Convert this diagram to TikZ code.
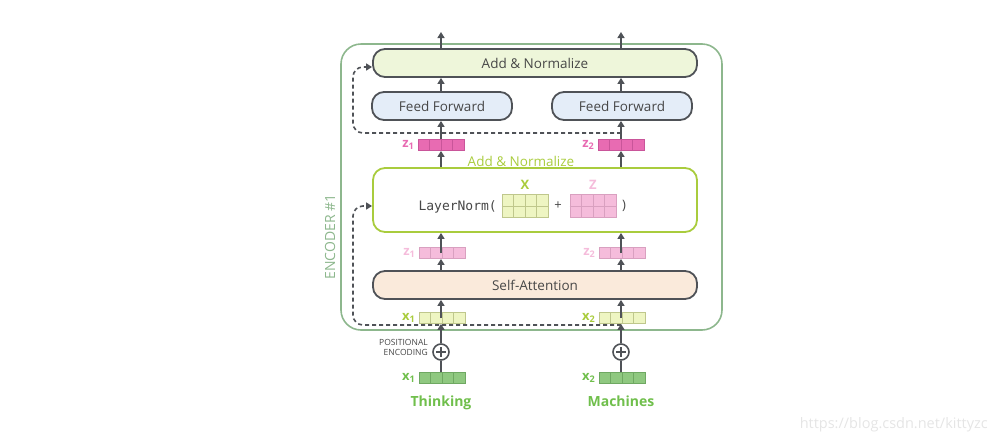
\documentclass[tikz,border=0pt]{standalone}
\usepackage{fontspec}
\setmainfont{Open Sans}
\setmonofont{DejaVu Sans Mono}
\usetikzlibrary{arrows.meta, positioning, calc}
\definecolor{linegray}{HTML}{4F5257}
\definecolor{textgray}{HTML}{474747}
\definecolor{encgreen}{HTML}{8DB78D}
\definecolor{addfill}{HTML}{EEF6DA}
\definecolor{fffill}{HTML}{E4EDF8}
\definecolor{safill}{HTML}{FAEADB}
\definecolor{lngreen}{HTML}{A9CC3D}
\definecolor{hotpink}{HTML}{E86BB2}
\definecolor{hotpinkd}{HTML}{C9559A}
\definecolor{lightpink}{HTML}{F5BCDB}
\definecolor{lightpinkd}{HTML}{D9A0C0}
\definecolor{lightyel}{HTML}{EEF5C2}
\definecolor{lightyeld}{HTML}{BFC78C}
\definecolor{embgreen}{HTML}{8FC880}
\definecolor{embgreend}{HTML}{6FA862}
\definecolor{wordgreen}{HTML}{70BF4C}

\begin{document}
\begin{tikzpicture}[x=1pt,y=-1pt,
		>={Triangle[width=7pt,length=6pt]},
		box/.style={draw=linegray, line width=1.8pt, rounded corners=12pt, minimum height=28pt, inner sep=0pt, text=textgray, font=\fontsize{13.5}{15}\selectfont},
		cells/.style={path picture={\foreach \k in {1,2,3} \draw[#1, line width=0.8pt] ($(path picture bounding box.south west)!\k/4!(path picture bounding box.south east)$) -- ($(path picture bounding box.north west)!\k/4!(path picture bounding box.north east)$);}},
		vec/.style 2 args={draw=#2, fill=#1, line width=0.8pt, minimum width=46pt, minimum height=11pt, inner sep=0pt, cells=#2},
		mat/.style 2 args={vec={#1}{#2}, minimum height=23pt},
		veclabel/.style={anchor=east, inner sep=0pt, font=\bfseries\fontsize{13}{14}\selectfont},
		word/.style={anchor=base, text=wordgreen, font=\bfseries\fontsize{14}{16}\selectfont},
		flow/.style={->, draw=linegray, line width=1.6pt},
		resid/.style={->, draw=linegray, line width=1.6pt, dash pattern=on 4pt off 3pt, rounded corners=10pt},
		posenc/.style={circle, draw=linegray, line width=1.6pt, minimum size=16pt, inner sep=0pt, path picture={\draw[linegray, line width=1.6pt] ($(path picture bounding box.center)+(-5,0)$) -- ++(10,0) ($(path picture bounding box.center)+(0,-5)$) -- ++(0,10);}}]
		\path[use as bounding box] (0,0) rectangle (997,445);

		\draw[encgreen, line width=1.6pt, rounded corners=20pt] (341,44) rectangle (722,330);
		\node[rotate=90, text=encgreen, font=\fontsize{14}{15}\selectfont] (enclabel) at (330,237) {ENCODER \#1};

		\node[box, fill=addfill, minimum width=324pt] (add2) at (535,63) {Add \& Normalize};
		\node[box, fill=fffill, minimum width=140pt] (ff1) at (442,106) {Feed Forward};
		\node[box, fill=fffill, minimum width=140pt] (ff2) at (622,106) {Feed Forward};
		\node[box, draw=lngreen, fill=white, minimum width=324pt, minimum height=64pt] (ln) at (535,200) {};
		\node[box, fill=safill, minimum width=324pt] (sa) at (535,285) {Self-Attention};

		\node[vec={hotpink}{hotpinkd}] (zz1) at (441,145) {};
		\node[vec={hotpink}{hotpinkd}] (zz2) at (621,145) {};
		\node[veclabel, text=hotpink, left=3pt of zz1] (zz1l) {z\textsubscript{1}};
		\node[veclabel, text=hotpink, left=3pt of zz2] (zz2l) {z\textsubscript{2}};
		\node[text=lngreen, font=\fontsize{13.5}{15}\selectfont] (addlabel) at (521,161) {Add \& Normalize};

		\node[anchor=east, font=\ttfamily\fontsize{13}{14}\selectfont, text=textgray, inner sep=0pt] (lnname) at (497,207) {LayerNorm(};
		\node[mat={lightyel}{lightyeld}] (xmat) at (525,206) {};
		\draw[lightyeld, line width=0.8pt] (xmat.west) -- (xmat.east);
		\node[text=textgray, font=\fontsize{13}{14}\selectfont] (plus) at (558,206) {+};
		\node[mat={lightpink}{lightpinkd}] (zmat) at (593,206) {};
		\draw[lightpinkd, line width=0.8pt] (zmat.west) -- (zmat.east);
		\node[text=textgray, font=\fontsize{13}{14}\selectfont] (close) at (624,206) {)};
		\node[above=1pt of xmat, text=lngreen, font=\bfseries\fontsize{13}{14}\selectfont] (xname) {X};
		\node[above=1pt of zmat, text=lightpink, font=\bfseries\fontsize{13}{14}\selectfont] (zname) {Z};

		\node[vec={lightpink}{lightpinkd}] (z1) at (442,253) {};
		\node[vec={lightpink}{lightpinkd}] (z2) at (622,253) {};
		\node[veclabel, text=lightpink, left=3pt of z1] (z1l) {z\textsubscript{1}};
		\node[veclabel, text=lightpink, left=3pt of z2] (z2l) {z\textsubscript{2}};

		\node[vec={lightyel}{lightyeld}] (x1) at (442,318) {};
		\node[vec={lightyel}{lightyeld}] (x2) at (622,318) {};
		\node[veclabel, text=lngreen, left=3pt of x1] (x1l) {x\textsubscript{1}};
		\node[veclabel, text=lngreen, left=3pt of x2] (x2l) {x\textsubscript{2}};

		\node[posenc] (pe1) at (441,352) {};
		\node[posenc] (pe2) at (621,352) {};
		\node[anchor=east, align=right, text=textgray, font=\fontsize{8.5}{10}\selectfont, inner sep=0pt] (pelabel) at (428,347) {POSITIONAL\\ENCODING};

		\node[vec={embgreen}{embgreend}] (e1) at (442,378) {};
		\node[vec={embgreen}{embgreend}] (e2) at (622,378) {};
		\node[veclabel, text=wordgreen, left=3pt of e1] (e1l) {x\textsubscript{1}};
		\node[veclabel, text=wordgreen, left=3pt of e2] (e2l) {x\textsubscript{2}};

		\node[word] (w1) at (441,406) {Thinking};
		\node[word] (w2) at (621,406) {Machines};
		\node[text=black!10, font=\fontsize{14.5}{16}\selectfont, anchor=east, inner sep=0pt] (mark) at (988,425) {https://blog.csdn.net/kittyzc};

		\coordinate (out1) at (441,32);
		\coordinate (out2) at (621,32);
		\coordinate (res2) at (621,133);
		\coordinate (res1) at (621,325);
		\coordinate (resx) at (353,0);

		\draw[flow] (add2.north -| out1) -- (out1);
		\draw[flow] (add2.north -| out2) -- (out2);
		\draw[flow] (ff1.north -| out1) -- (add2.south -| out1);
		\draw[flow] (ff2.north -| out2) -- (add2.south -| out2);
		\draw[flow] (zz1) -- (ff1.south -| zz1);
		\draw[flow] (zz2) -- (ff2.south -| zz2);
		\draw[flow] (ln.north -| zz1) -- (zz1);
		\draw[flow] (ln.north -| zz2) -- (zz2);
		\draw[flow] (z1 -| zz1) -- (ln.south -| zz1);
		\draw[flow] (z2 -| zz2) -- (ln.south -| zz2);
		\draw[flow] (sa.north -| zz1) -- (z1.south -| zz1);
		\draw[flow] (sa.north -| zz2) -- (z2.south -| zz2);
		\draw[flow] (x1 -| zz1) -- (sa.south -| zz1);
		\draw[flow] (x2 -| zz2) -- (sa.south -| zz2);
		\draw[flow] (pe1) -- (x1.south -| pe1);
		\draw[flow] (pe2) -- (x2.south -| pe2);
		\draw[linegray, line width=1.6pt] (e1.north -| pe1) -- (pe1);
		\draw[linegray, line width=1.6pt] (e2.north -| pe2) -- (pe2);

		\draw[resid] (res2) -- (res2 -| resx) |- ($(add2.west)+(0,4)$);
		\draw[resid] (res1) -- (res1 -| resx) |- ($(ln.west)+(0,6)$);
	\end{tikzpicture}
\end{document}
